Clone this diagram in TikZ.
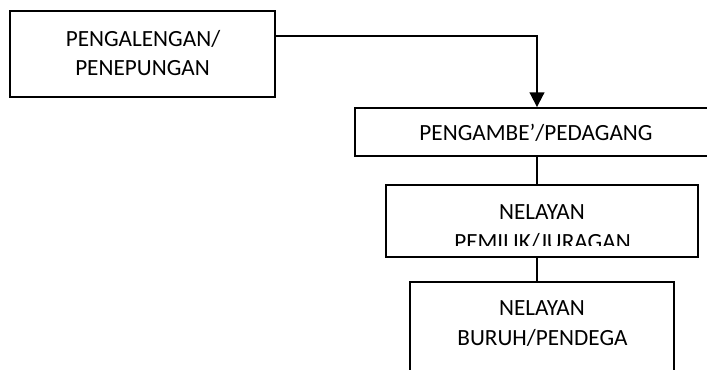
\documentclass[tikz,border=0pt]{standalone}
\usepackage{fontspec}
\setmainfont{Carlito}
\usetikzlibrary{arrows.meta}
\tikzset{
  kotak/.style={draw, line width=1.4pt, rectangle, inner sep=0pt},
  teks/.style={anchor=base, inner sep=0pt, font=\fontsize{17.4pt}{21pt}\selectfont},
  garis/.style={line width=1.4pt},
  panah/.style={garis, -{Triangle[width=11pt,length=11pt]}}
}
\begin{document}
\begin{tikzpicture}[x=0.75pt,y=-0.75pt]
  \clip (0,0) rectangle (707,369);
  % kotak-kotak
  \node[kotak, minimum width=198.75pt, minimum height=64.5pt] (pengalengan) at (142.5,54) {};
  \node[kotak, minimum width=273pt, minimum height=36pt] (pengambe) at (537,132) {};
  \node[kotak, minimum width=234pt, minimum height=54pt] (pemilik) at (542,221) {};
  \node[kotak, minimum width=198pt, minimum height=90pt] (buruh) at (542,342) {};
  % tulisan
  \node[teks] (pengalengana) at (143,46.7) {PENGALENGAN/};
  \node[teks] (pengalenganb) at (142.5,75) {PENEPUNGAN};
  \node[teks] (pengambea) at (536,140) {PENGAMBE'/PEDAGANG};
  \node[teks] (pemilika) at (542,219.3) {NELAYAN};
  \begin{scope}
    \clip (386,185) rectangle (698,245.5);
    \node[teks] (pemilikb) at (542.5,249.3) {PEMILIK/JURAGAN};
  \end{scope}
  \node[teks] (buruha) at (542,315) {NELAYAN};
  \node[teks] (buruhb) at (542.5,345) {BURUH/PENDEGA};
  % penghubung
  \draw[panah] ([yshift=13.5pt]pengalengan.east) -| (pengambe.north);
  \draw[garis] (pengambe.south) -- (pengambe.south |- pemilik.north);
  \draw[garis] (pemilik.south -| pengambe.south) -- (pengambe.south |- buruh.north);
\end{tikzpicture}
\end{document}
